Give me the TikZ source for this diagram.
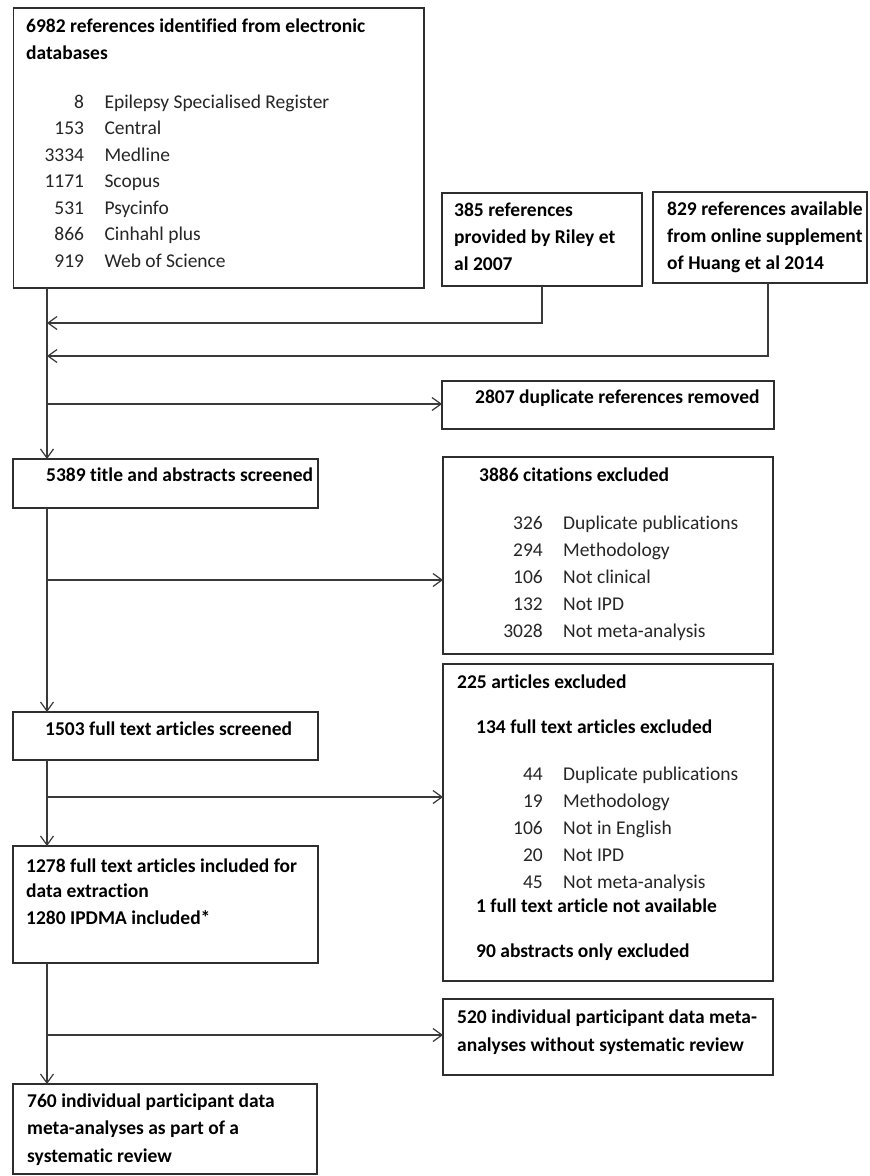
\documentclass[tikz,border=0pt]{standalone}
\usepackage{fontspec}
\setmainfont[Ligatures={NoCommon}]{Carlito}
\usetikzlibrary{arrows.meta,calc}
\definecolor{ink}{HTML}{2E2E2E}
\definecolor{lnk}{HTML}{3A3A3A}
\begin{document}
\begin{tikzpicture}[x=1pt,y=-1pt,
 box/.style={draw=ink, line width=1.4pt, anchor=north west, inner sep=0pt, outer sep=0pt},
 bt/.style={anchor=base west, inner sep=0pt, text=black, font=\fontsize{19.5}{24}\selectfont\bfseries},
 rt/.style={anchor=base west, inner sep=0pt, text=black!85, font=\fontsize{19.5}{24}\selectfont},
 num/.style={anchor=base east, inner sep=0pt, text=black!85, font=\fontsize{19.5}{24}\selectfont},
 ln/.style={draw=lnk, line width=1.3pt},
 arr/.style={draw=lnk, line width=1.3pt, -{Straight Barb[length=9pt,width=13pt,line width=1.2pt]}}]
\useasboundingbox (0,0) rectangle (870,1176);
\fill[white] (0,0) rectangle (870,1176);
% column of the main flow
\coordinate (col) at (47,0);
% boxes
\node[box, minimum width=410.5pt, minimum height=280pt] (db) at (13.5,8) {};
\node[box, minimum width=200pt, minimum height=93pt] (riley) at (442,193) {};
\node[box, minimum width=214pt, minimum height=91pt] (huang) at (653,192) {};
\node[box, minimum width=332pt, minimum height=48pt] (dup) at (442,381) {};
\node[box, minimum width=305pt, minimum height=49pt] (scr) at (13,459) {};
\node[box, minimum width=330pt, minimum height=197pt] (cit) at (443,457) {};
\node[box, minimum width=330pt, minimum height=317pt] (ex) at (443,664) {};
\node[box, minimum width=305pt, minimum height=48pt] (ful) at (13,712) {};
\node[box, minimum width=305pt, minimum height=117pt] (inc) at (13,846) {};
\node[box, minimum width=330pt, minimum height=76pt] (wo) at (443,999) {};
\node[box, minimum width=304pt, minimum height=90pt] (sr) at (13,1084) {};
% texts: databases
\node[bt] (dbt1) at (26,32.5) {6982 references identified from electronic};
\node[bt] (dbt2) at (26,59) {databases};
\node[num] (dbn1) at (84.3,108.3) {8};    \node[rt] (dbl1) at (104.3,108.3) {Epilepsy Specialised Register};
\node[num] (dbn2) at (84.3,134.8) {153};  \node[rt] (dbl2) at (104.3,134.8) {Central};
\node[num] (dbn3) at (84.3,161.3) {3334}; \node[rt] (dbl3) at (104.3,161.3) {Medline};
\node[num] (dbn4) at (84.3,187.8) {1171}; \node[rt] (dbl4) at (104.3,187.8) {Scopus};
\node[num] (dbn5) at (84.3,214.3) {531};  \node[rt] (dbl5) at (104.3,214.3) {Psycinfo};
\node[num] (dbn6) at (84.3,240.8) {866};  \node[rt] (dbl6) at (104.3,240.8) {Cinhahl plus};
\node[num] (dbn7) at (84.3,267.3) {919};  \node[rt] (dbl7) at (104.3,267.3) {Web of Science};
% riley / huang
\node[bt] (rt1) at (454,216) {385 references};
\node[bt] (rt2) at (454,243) {provided by Riley et};
\node[bt] (rt3) at (454,270) {al 2007};
\node[bt] (ht1) at (667,215) {829 references available};
\node[bt] (ht2) at (667,242) {from online supplement};
\node[bt] (ht3) at (667,269) {of Huang et al 2014};
% duplicates
\node[bt] (dupt) at (475,403) {2807 duplicate references removed};
% screened
\node[bt] (scrt) at (46,481) {5389 title and abstracts screened};
% citations excluded
\node[bt] (citt) at (479,481) {3886 citations excluded};
\node[num] (cn1) at (543,529) {326};  \node[rt] (cl1) at (563,529) {Duplicate publications};
\node[num] (cn2) at (543,556) {294};  \node[rt] (cl2) at (563,556) {Methodology};
\node[num] (cn3) at (543,583) {106};  \node[rt] (cl3) at (563,583) {Not clinical};
\node[num] (cn4) at (543,610) {132};  \node[rt] (cl4) at (563,610) {Not IPD};
\node[num] (cn5) at (543,637) {3028}; \node[rt] (cl5) at (563,637) {Not meta-analysis};
% articles excluded
\node[bt] (ext1) at (457,688) {225 articles excluded};
\node[bt] (ext2) at (476,733) {134 full text articles excluded};
\node[num] (en1) at (543,780) {44};  \node[rt] (el1) at (563,780) {Duplicate publications};
\node[num] (en2) at (543,807) {19};  \node[rt] (el2) at (563,807) {Methodology};
\node[num] (en3) at (543,834) {106}; \node[rt] (el3) at (563,834) {Not in English};
\node[num] (en4) at (543,861) {20};  \node[rt] (el4) at (563,861) {Not IPD};
\node[num] (en5) at (543,888) {45};  \node[rt] (el5) at (563,888) {Not meta-analysis};
\node[bt] (ext3) at (476,912) {1 full text article not available};
\node[bt] (ext4) at (476,957) {90 abstracts only excluded};
% full text screened
\node[bt] (fult) at (45,735) {1503 full text articles screened};
% included
\node[bt] (inct1) at (26,872) {1278 full text articles included for};
\node[bt] (inct2) at (26,897) {data extraction};
\node[bt] (inct3) at (26,924) {1280 IPDMA included*};
% without SR
\node[bt] (wot1) at (457,1023) {520 individual participant data meta-};
\node[bt] (wot2) at (457,1051) {analyses without systematic review};
% as part of SR
\node[bt] (srt1) at (27,1107) {760 individual participant data};
\node[bt] (srt2) at (27,1134) {meta-analyses as part of a};
\node[bt] (srt3) at (27,1162) {systematic review};
% connector points
\coordinate (m1) at (47,323);
\coordinate (m2) at (47,356);
\coordinate (hk) at (768,283);
\coordinate (b1) at (47,404);
\coordinate (b2) at (47,580);
\coordinate (b3) at (47,797);
\coordinate (b4) at (47,1035);
% connectors
\draw[arr] (db.south -| col) -- (scr.north -| col);
\draw[arr] (riley.south) |- (m1);
\draw[arr] (hk) |- (m2);
\draw[arr] (b1) -- (b1 -| dup.west);
\draw[arr] (scr.south -| col) -- (ful.north -| col);
\draw[arr] (b2) -- (b2 -| cit.west);
\draw[arr] (ful.south -| col) -- (inc.north -| col);
\draw[arr] (b3) -- (b3 -| ex.west);
\draw[arr] (inc.south -| col) -- (sr.north -| col);
\draw[arr] (b4) -- (b4 -| wo.west);
\end{tikzpicture}
\end{document}
